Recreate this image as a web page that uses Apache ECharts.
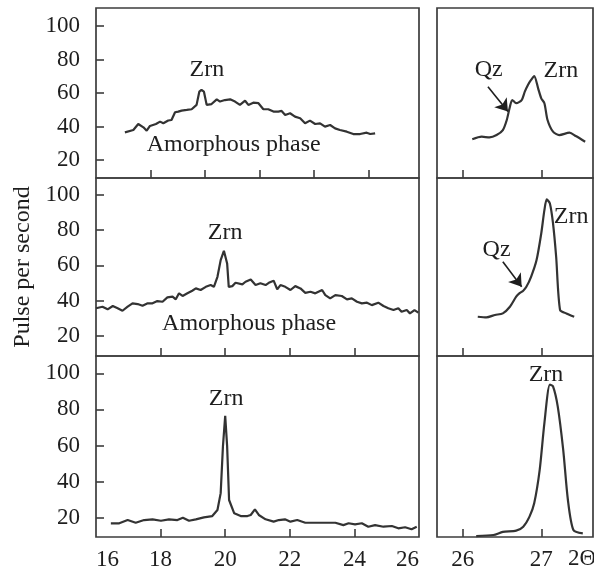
<!DOCTYPE html>
<html><head><meta charset="utf-8">
<script src="https://cdn.jsdelivr.net/npm/echarts@6/dist/echarts.min.js"></script>
<style>html,body{margin:0;padding:0;background:#fff}#c{width:594px;height:571px}</style>
</head><body><div id="c"></div>
<script>
// ---- tick labels ----
const yTicks = [20, 40, 60, 80, 100];
const leftXTicks = [16, 18, 20, 22, 24, 26];
const topLeftXTicks = [18, 20, 22, 24, 26];
const rightXTicks = [26, 27];

// ---- series values (2θ, pulses per second) ----
const topLeftX = [17.06,17.37,17.55,17.74,17.86,17.98,18.2,18.35,18.47,18.65,18.77,18.9,19.02,19.14,19.33,19.51,19.69,19.79,19.87,19.96,20.06,20.24,20.43,20.55,20.73,20.92,21.1,21.28,21.47,21.59,21.77,21.96,22.14,22.32,22.51,22.69,22.81,22.94,23.12,23.3,23.49,23.67,23.85,24.04,24.22,24.4,24.59,24.77,24.95,25.2,25.44,25.69,25.93,26.06,26.24];
const topLeftY = [36.5,37.9,41.5,39.5,37.5,40.3,41.5,42.9,41.9,43.6,43.9,48.5,48.9,49.5,49.9,50.3,52.9,60.8,61.8,60.8,52.9,53.4,56.2,54.9,55.8,56.2,54.9,52.9,55.4,52.9,54.2,53.9,50.3,50.3,48.9,48.9,49.3,46.9,47.9,45.9,44.9,41.9,43.5,41.5,41.9,39.9,40.9,38.9,37.9,36.9,35.5,35.5,36.3,35.5,35.9];

const topRightX = [26.12,26.24,26.34,26.43,26.51,26.56,26.6,26.63,26.68,26.75,26.79,26.83,26.87,26.91,26.96,27.0,27.04,27.08,27.15,27.23,27.36,27.44,27.56];
const topRightY = [32.4,33.9,33.5,34.9,37.9,43.9,51.8,55.8,53.9,55.8,60.8,64.8,67.8,70.1,62.8,56.8,53.9,43.9,36.9,34.9,36.3,34.3,30.9];

const midLeftX = [16,16.2,16.36,16.52,16.67,16.82,16.98,17.13,17.29,17.44,17.6,17.75,17.9,18.06,18.21,18.37,18.47,18.57,18.68,18.83,18.98,19.09,19.24,19.4,19.55,19.65,19.76,19.86,19.96,20.06,20.11,20.22,20.32,20.53,20.63,20.79,20.94,21.09,21.25,21.35,21.5,21.61,21.71,21.86,22.02,22.17,22.33,22.48,22.64,22.79,23.0,23.1,23.25,23.41,23.61,23.77,23.92,24.08,24.23,24.39,24.54,24.74,24.9,25.05,25.21,25.36,25.46,25.62,25.72,25.86,25.98];
const midLeftY = [35.6,36.5,35,36.9,35.6,34.2,36.5,38.4,38,37,38.4,38.4,39.7,39.3,41.8,42.2,40.7,44.1,42.6,44.1,45.6,46.9,46,47.8,48.8,47.8,53.5,63,68.3,61.1,47.8,48.2,50.1,49.2,50.7,52,48.8,49.8,48.8,50.1,51.3,46.4,48.8,47.8,46,48.2,46.9,44.4,45,44.1,46,43.1,41.2,43.1,42.6,40.7,41.2,39.3,38.4,38.8,37.4,38.8,36.9,35.6,34.6,35.6,33.6,34.6,32.7,34.6,33.1];

const midRightX = [26.19,26.3,26.41,26.51,26.6,26.68,26.72,26.77,26.81,26.87,26.94,27.0,27.04,27.07,27.11,27.15,27.19,27.24,27.32,27.42];
const midRightY = [30.8,30.4,31.8,32.7,36.5,42.2,44.1,45.6,47.8,53.5,63,78.2,91.4,97.5,95.2,83.9,64.9,34.6,32.7,30.8];

const botLeftX = [16.46,16.72,16.98,17.23,17.49,17.75,18.01,18.26,18.52,18.69,18.88,19.09,19.34,19.6,19.76,19.86,19.93,20.0,20.06,20.12,20.28,20.48,20.69,20.79,20.92,21.04,21.25,21.5,21.66,21.85,22.02,22.23,22.48,23.0,23.41,23.66,23.82,24.02,24.23,24.43,24.64,24.9,25.16,25.36,25.57,25.77,25.93];
const botLeftY = [16.9,16.9,18.7,17.2,18.7,19.1,18.3,19.1,18.7,20,18.3,19.1,20.2,20.9,24.3,33.6,59.5,76.5,59.5,29.8,22.4,20.9,20.9,21.5,24.6,21.5,19.1,17.8,18.7,19.1,17.8,18.7,17.2,17.2,17.2,15.9,16.9,16.3,16.9,15,15.9,15,15.4,14.1,14.7,13.6,15];

const botRightX = [26.17,26.39,26.51,26.68,26.77,26.85,26.91,26.98,27.04,27.11,27.15,27.21,27.28,27.34,27.41,27.53];
const botRightY = [9.8,10.4,12.1,12.8,15,20.6,28,46.5,72.4,93.7,92.8,81.7,57.6,29.8,13.2,11.3];

// ---- annotations (data coordinates) ----
const notes = [
  {panel:0, text:'Zrn', x:20.07, y:73.7},
  {panel:0, text:'Amorphous phase', x:21.05, y:29},
  {panel:1, text:'Qz', x:26.33, y:73.7},
  {panel:1, text:'Zrn', x:27.25, y:73.4},
  {panel:2, text:'Zrn', x:20.0, y:78.4},
  {panel:2, text:'Amorphous phase', x:20.74, y:27},
  {panel:3, text:'Qz', x:26.43, y:68.7},
  {panel:3, text:'Zrn', x:27.38, y:87.7},
  {panel:4, text:'Zrn', x:20.03, y:85.8},
  {panel:5, text:'Zrn', x:27.06, y:99}
];
const arrows = [
  {panel:1, from:[26.32,63.8], to:[26.575,48.9]},
  {panel:3, from:[26.51,62.1], to:[26.75,47.9]}
];

const zip = (a,b) => a.slice(0, Math.min(a.length,b.length)).map((v,i)=>[v,b[i]]);
const seriesData = [
  zip(topLeftX, topLeftY), zip(topRightX, topRightY),
  zip(midLeftX, midLeftY), zip(midRightX, midRightY),
  zip(botLeftX, botLeftY), zip(botRightX, botRightY)
];

const FONT = "'Liberation Serif','Times New Roman',serif";
const INK = '#1e1e1e';
const LINE = '#333';
const BORDER = '#3c3c3c';

const rows = [
  {top:8, height:170, ymin:9.25, ymax:110.75},
  {top:178, height:178, ymin:8.46, ymax:109.7},
  {top:356, height:181, ymin:9.3, ymax:109.6}
];
const cols = [
  {left:96, width:323},
  {left:437, width:156}
];

const grids=[], xAxes=[], yAxes=[], series=[];
for (let r=0;r<3;r++){
  for (let c=0;c<2;c++){
    const i = r*2+c;
    grids.push({left:cols[c].left, top:rows[r].top, width:cols[c].width, height:rows[r].height,
      show:true, borderColor:BORDER, borderWidth:1.7, backgroundColor:'transparent', containLabel:false});
    let xmin, xmax, tickVals, labVals;
    if (c===0){
      xmin=16;
      xmax = (r===0) ? 27.85 : 26;
      tickVals = (r===0) ? topLeftXTicks : leftXTicks.slice(1,5);
      labVals = leftXTicks;
    } else {
      xmin=25.67; xmax=27.66;
      tickVals = rightXTicks; labVals = rightXTicks;
    }
    xAxes.push({type:'value', gridIndex:i, min:xmin, max:xmax,
      axisLine:{show:false},
      splitLine:{show:false},
      axisTick:{show:true, inside:true, length:8, customValues:tickVals, lineStyle:{color:BORDER, width:1.6}},
      axisLabel:{show: r===2, customValues:labVals, margin:11, fontFamily:FONT, fontSize:23, color:INK,
        alignMinLabel: c===0 ? 'left' : 'center', alignMaxLabel: c===0 ? 'right' : 'center'}
    });
    yAxes.push({type:'value', gridIndex:i, min:rows[r].ymin, max:rows[r].ymax,
      axisLine:{show:false}, splitLine:{show:false},
      axisTick:{show: c===0, inside:true, length:8, customValues:yTicks, lineStyle:{color:BORDER, width:1.6}},
      axisLabel:{show: c===0, customValues:yTicks, margin:16, fontFamily:FONT, fontSize:23, color:INK},
      name: (r===1 && c===0) ? 'Pulse per second' : '',
      nameLocation:'middle', nameGap:60, nameRotate:90,
      nameTextStyle:{fontFamily:FONT, fontSize:24, color:INK}
    });
    const myNotes = notes.filter(n=>n.panel===i);
    const myArrows = arrows.filter(a=>a.panel===i);
    series.push({type:'line', xAxisIndex:i, yAxisIndex:i, data:seriesData[i],
      showSymbol:false, symbol:'none', smooth: c===1 ? 0.25 : false,
      lineStyle:{color:LINE, width:2.2},
      markPoint:{symbol:'rect', symbolSize:1, itemStyle:{color:'rgba(0,0,0,0)'}, silent:true, animation:false,
        label:{show:true, position:'inside', fontFamily:FONT, fontSize:24, color:INK, formatter:p=>p.name},
        data: myNotes.map(n=>({name:n.text, coord:[n.x,n.y]}))},
      markLine: myArrows.length ? {silent:true, animation:false, symbol:['none','arrow'], symbolSize:12,
        lineStyle:{color:INK, width:1.6, type:'solid'}, itemStyle:{color:INK}, label:{show:false},
        data: myArrows.map(a=>[{coord:a.from},{coord:a.to}])} : undefined
    });
  }
}

const chart = echarts.init(document.getElementById('c'), null, {renderer:'canvas'});
chart.setOption({
  animation:false,
  backgroundColor:'#fff',
  grid:grids, xAxis:xAxes, yAxis:yAxes, series:series,
  graphic:[{type:'text', left:568, top:547, style:{text:'2Θ', font:"23px 'Liberation Serif','Times New Roman',serif", fill:INK}}]
});
</script>
</body></html>
